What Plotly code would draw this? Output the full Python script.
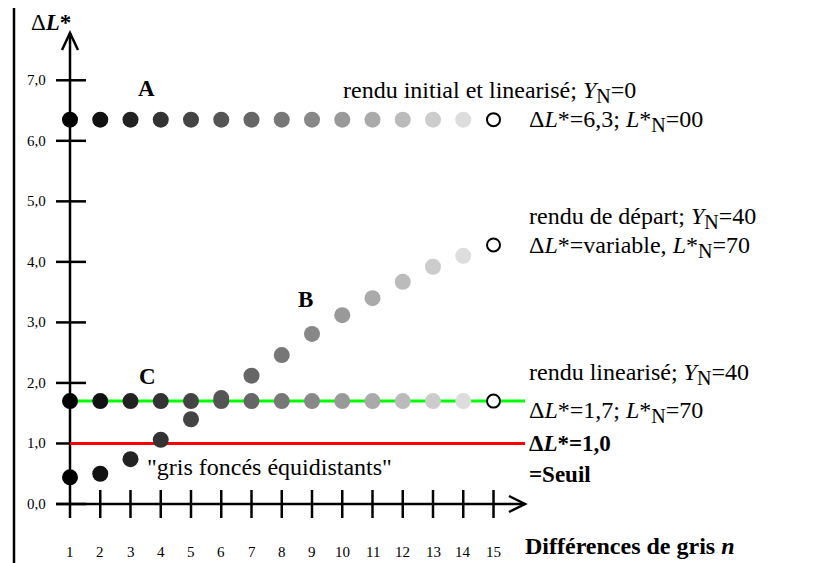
import plotly.graph_objects as go

# ---------------- data ----------------
N = list(range(1, 16))                      # grey differences n = 1..15
SERIES_A = [6.35] * 14                      # rendu initial et linéarisé, Y_N=0
SERIES_A_END = 6.35
SERIES_B = [0.44, 0.50, 0.74, 1.06, 1.40, 1.75, 2.12, 2.46, 2.81, 3.12,
            3.40, 3.67, 3.92, 4.10]         # rendu de départ, Y_N=40
SERIES_B_END = 4.28
SERIES_C = [1.70] * 14                      # rendu linéarisé, Y_N=40
SERIES_C_END = 1.70
GREEN_LEVEL = 1.7
THRESHOLD = 1.0
GRAYS = ['#000000', '#111111', '#222222', '#333333', '#444444', '#555555',
         '#666666', '#777777', '#888888', '#999999', '#aaaaaa', '#bbbbbb',
         '#cccccc', '#dddddd']
Y_TICKS = [0, 1, 2, 3, 4, 5, 6, 7]
Y_TICK_LABELS = ['0,0', '1,0', '2,0', '3,0', '4,0', '5,0', '6,0', '7,0']
X_TICK_LABELS = [str(n) for n in N]

# ---------------- geometry helpers ----------------
PAGE_W, PAGE_H = 819, 563
OFF = 8                     # default page margin around the figure
W, H = PAGE_W - OFF, PAGE_H - OFF
X0PX, PXX = 70.0, 30.25     # page pixel of n=1, pixels per unit n
Y0PX, PXY = 504.0, 60.53    # page pixel of value 0, pixels per unit value


def px2x(px):
    return 1 + (px - X0PX) / PXX


def px2y(py):
    return (Y0PX - py) / PXY


X_END = px2x(525)
FONT = 'Liberation Serif'
BIG = 24


def sub(s):
    return f'<sub><span style="font-size:{BIG - 4}px">{s}</span></sub>'


fig = go.Figure()

# reference lines
fig.add_trace(go.Scatter(x=[1, X_END], y=[GREEN_LEVEL, GREEN_LEVEL], mode='lines',
                         line=dict(color='#00ff00', width=3), hoverinfo='skip'))
fig.add_trace(go.Scatter(x=[1, X_END], y=[THRESHOLD, THRESHOLD], mode='lines',
                         line=dict(color='#ff0000', width=3), hoverinfo='skip'))

# series markers
for vals, end in [(SERIES_A, SERIES_A_END), (SERIES_C, SERIES_C_END), (SERIES_B, SERIES_B_END)]:
    fig.add_trace(go.Scatter(x=N[:14], y=vals, mode='markers',
                             marker=dict(size=16, color=GRAYS, line=dict(width=0)),
                             hoverinfo='skip'))
    fig.add_trace(go.Scatter(x=[N[14]], y=[end], mode='markers',
                             marker=dict(size=13, color='white', line=dict(width=2, color='black')),
                             hoverinfo='skip'))

shapes = []
AX = dict(color='black', width=2.5)
# left frame line
shapes.append(dict(type='line', x0=px2x(14), x1=px2x(14), y0=px2y(-20), y1=px2y(PAGE_H + 20),
                   line=AX, layer='below'))
# axes
shapes.append(dict(type='line', x0=1, x1=1, y0=px2y(518), y1=px2y(33), line=AX, layer='below'))
shapes.append(dict(type='line', x0=px2x(56), x1=X_END, y0=0, y1=0, line=AX, layer='below'))
# arrow heads
shapes.append(dict(type='path',
                   path=f'M {px2x(62)},{px2y(50)} L 1,{px2y(33)} L {px2x(78)},{px2y(50)}',
                   line=AX, layer='below'))
shapes.append(dict(type='path',
                   path=f'M {px2x(509)},{px2y(496)} L {X_END},0 L {px2x(509)},{px2y(512)}',
                   line=AX, layer='below'))
# y ticks (crossing)
for v in Y_TICKS:
    shapes.append(dict(type='line', x0=px2x(56), x1=px2x(86), y0=v, y1=v, line=AX, layer='below'))
# x ticks (crossing)
for n in N[1:]:
    shapes.append(dict(type='line', x0=n, x1=n, y0=px2y(490), y1=px2y(518), line=AX, layer='below'))

ann = []


def text(x, y, s, size, xanchor='left', yanchor='middle'):
    ann.append(dict(x=x, y=y, text=s, showarrow=False, xanchor=xanchor, yanchor=yanchor,
                    font=dict(family=FONT, size=size, color='black')))


for v, lab in zip(Y_TICKS, Y_TICK_LABELS):
    text(px2x(48), v, lab, 15, xanchor='right')
for n, lab in zip(N, X_TICK_LABELS):
    text(n, px2y(552), lab, 15, xanchor='center')

text(px2x(29), px2y(OFF), 'Δ<b><i>L</i>*</b>', 23, yanchor='top')
text(px2x(146), px2y(88), '<b>A</b>', 23, xanchor='center')
text(px2x(305), px2y(299), '<b>B</b>', 23, xanchor='center')
text(px2x(147), px2y(376), '<b>C</b>', 23, xanchor='center')
text(px2x(145), px2y(467), '"gris foncés équidistants"', 24)

text(px2x(341), px2y(92), f'rendu initial et linearisé; <i>Y</i>{sub("N")}=0', BIG)
text(px2x(527), px2y(121), f'Δ<i>L</i>*=6,3; <i>L</i>*{sub("N")}=00', BIG)
text(px2x(527), px2y(218), f'rendu de départ; <i>Y</i>{sub("N")}=40', BIG)
text(px2x(527), px2y(247), f'Δ<i>L</i>*=variable, <i>L</i>*{sub("N")}=70', BIG)
text(px2x(527), px2y(374), f'rendu linearisé; <i>Y</i>{sub("N")}=40', BIG)
text(px2x(527), px2y(412), f'Δ<i>L</i>*=1,7; <i>L</i>*{sub("N")}=70', BIG)
text(px2x(527), px2y(443), '<b>Δ<i>L</i>*=1,0</b>', 23)
text(px2x(527), px2y(474), '<b>=Seuil</b>', 23)
text(px2x(523), px2y(546), '<b>Différences de gris <i>n</i></b>', 24)

fig.update_layout(
    width=W, height=H, margin=dict(l=0, r=0, t=0, b=0),
    paper_bgcolor='white', plot_bgcolor='rgba(0,0,0,0)', showlegend=False,
    xaxis=dict(range=[px2x(OFF), px2x(PAGE_W)], visible=False, fixedrange=True),
    yaxis=dict(range=[px2y(PAGE_H), px2y(OFF)], visible=False, fixedrange=True),
    shapes=shapes, annotations=ann,
)
fig.write_html('out.html')
